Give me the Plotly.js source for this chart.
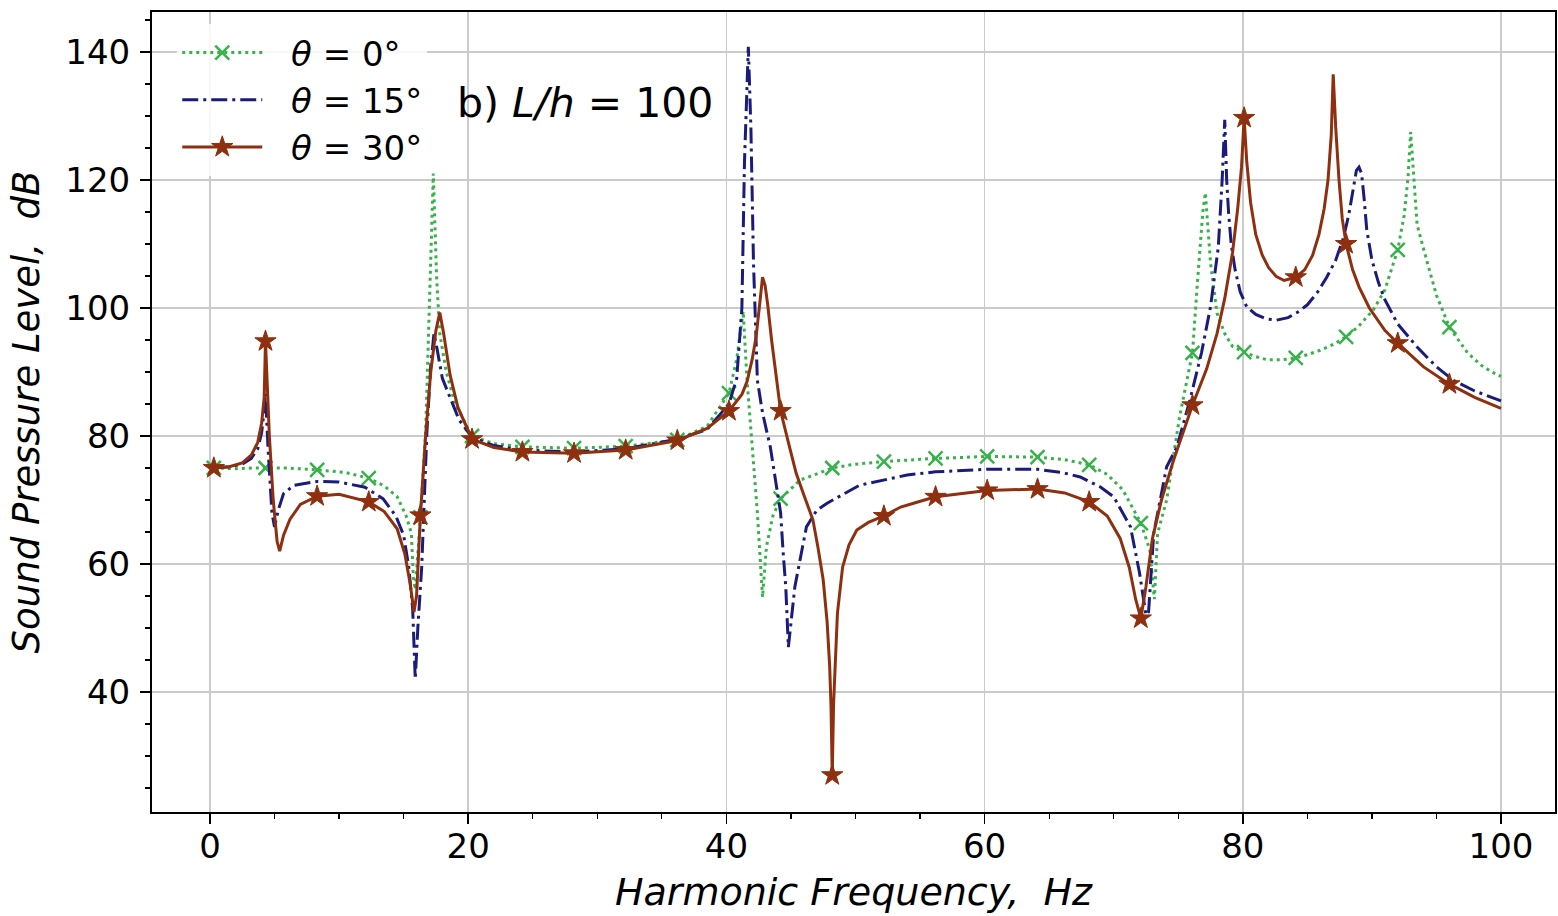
<!DOCTYPE html>
<html>
<head>
<meta charset="utf-8">
<script src="https://cdn.plot.ly/plotly-3.0.1.min.js"></script>
<style>html,body{margin:0;padding:0;background:#fff;}#chart{width:1558px;height:916px;}</style>
</head>
<body>
<div id="chart"></div>
<script>
// ---- data ----
// theta = 0 deg (green, dotted)
const f0 = [0.3,2.0,3.5,4.3,6.0,8.3,10.5,12.3,13.5,14.5,15.2,15.6,15.75,15.9,16.05,16.3,16.7,17.0,17.3,17.55,17.8,18.3,19.0,20.3,22.0,24.2,28.2,32.2,36.2,38.5,40.2,40.8,41.3,41.6,42.0,42.4,42.8,43.1,43.6,44.2,45.7,48.2,50.0,52.2,56.2,60.2,64.1,66.2,68.1,69.5,70.7,72.1,72.8,73.05,73.15,73.4,74.1,75.1,76.1,76.5,76.9,77.1,77.3,77.5,78.0,78.6,79.2,80.1,81.0,81.9,83.0,84.1,85.0,86.0,87.0,88.0,89.0,90.1,91.0,92.0,92.5,92.8,93.0,93.2,93.5,94.3,95.0,96.0,97.4,98.5,99.3,100.0];
const y0 = [75.0,74.9,75.0,75.0,75.0,74.7,74.3,73.4,72.2,70.5,67.5,64.8,58.0,56.0,60.0,67.3,80.5,101.0,121.0,105.0,96.0,90.0,85.0,80.0,78.8,78.3,78.1,78.4,79.4,81.5,86.7,92.0,99.5,88.7,78.3,68.0,54.8,62.7,67.5,70.2,73.1,75.0,75.6,76.0,76.5,76.8,76.7,76.3,75.5,74.0,71.6,66.4,62.2,57.0,54.5,64.8,70.0,83.0,93.0,104.4,115.0,118.0,112.0,107.0,99.2,96.0,94.0,93.1,92.4,91.9,91.9,92.2,92.7,93.4,94.3,95.5,97.2,99.7,102.8,109.1,114.5,120.5,127.5,121.0,113.0,107.0,102.0,97.0,93.0,91.0,90.0,89.3];
// theta = 15 deg (navy, dash-dot)
const f15 = [0.3,1.5,2.5,3.2,3.7,4.0,4.2,4.3,4.5,4.8,5.0,5.3,5.7,6.5,8.3,10.0,12.0,13.4,14.4,15.0,15.4,15.7,15.9,16.1,16.4,16.8,17.1,17.35,17.6,18.0,18.6,19.3,20.3,22.0,24.2,28.2,32.2,36.2,38.5,40.2,40.8,41.2,41.4,41.7,41.9,42.1,42.4,42.8,43.4,43.9,44.2,44.4,44.6,44.8,45.05,45.3,45.9,46.2,47.0,47.8,50.3,54.0,56.2,60.2,64.1,66.0,67.4,69.0,70.0,71.3,72.0,72.5,72.7,73.1,74.1,74.9,75.9,76.8,77.5,78.1,78.4,78.6,78.75,78.9,79.1,79.4,79.8,80.3,81.0,81.8,82.6,83.5,84.3,85.0,85.8,86.5,87.2,87.8,88.2,88.5,88.8,89.0,89.2,89.4,89.6,90.0,90.5,91.0,92.0,93.5,95.0,96.3,98.0,100.0];
const y15 = [75.0,75.2,75.6,76.5,78.0,80.5,84.0,86.7,78.0,68.0,65.8,68.5,71.0,72.3,72.9,72.8,72.0,70.2,67.5,64.5,59.5,53.0,42.0,50.0,59.5,80.5,91.0,96.0,93.5,89.0,86.0,82.5,79.8,78.5,77.8,77.5,78.0,79.5,81.0,85.0,89.0,100.0,122.7,140.8,128.0,107.0,88.7,83.6,78.3,71.6,68.0,61.7,56.4,47.0,52.0,56.4,62.7,65.8,68.4,69.5,72.3,73.9,74.4,74.8,74.8,74.3,73.6,72.0,70.5,65.8,58.6,52.0,52.5,64.8,75.2,78.3,85.6,93.0,100.2,109.5,120.0,129.4,120.0,114.8,110.0,106.0,102.5,100.2,99.0,98.3,98.1,98.5,99.4,100.5,102.5,104.8,107.5,111.0,114.5,118.0,121.5,122.0,121.0,117.0,112.2,107.5,104.0,101.3,97.5,93.9,90.8,88.7,87.0,85.5];
// theta = 30 deg (brown, solid)
const f30 = [0.3,1.5,2.5,3.2,3.7,4.0,4.2,4.3,4.6,4.9,5.2,5.4,5.7,6.2,7.0,8.3,10.0,12.3,13.5,14.5,15.1,15.5,15.8,16.0,16.3,16.7,17.1,17.5,17.8,18.1,18.6,19.2,20.3,22.0,24.2,28.2,32.2,36.2,38.5,40.2,41.2,41.6,42.0,42.3,42.6,42.8,43.0,43.2,43.5,43.9,44.2,44.8,45.4,46.0,46.7,47.1,47.5,47.8,48.0,48.1,48.2,48.3,48.45,48.6,49.0,49.5,50.1,51.0,52.2,53.5,54.5,56.2,60.2,64.1,66.2,68.1,69.5,70.5,71.2,71.7,72.1,72.5,73.0,73.7,74.6,76.1,77.2,78.0,78.6,79.2,79.6,79.9,80.1,80.3,80.6,81.0,81.5,82.0,82.6,83.2,84.1,84.8,85.4,85.9,86.3,86.6,86.85,87.0,87.2,87.45,87.7,88.0,88.5,89.0,89.8,91.0,92.0,94.0,96.0,98.0,100.0];
const y30 = [75.0,75.2,75.8,77.0,79.0,82.0,86.0,94.8,80.0,70.0,63.5,62.0,64.5,67.0,69.3,70.6,70.9,69.7,68.2,65.5,61.5,57.0,52.5,55.0,67.6,80.0,90.0,96.5,99.3,96.0,89.5,84.5,79.5,78.2,77.5,77.3,77.8,79.3,81.2,83.9,86.5,88.5,92.0,95.5,101.0,104.8,103.5,100.5,95.0,88.5,83.9,79.0,74.2,70.8,66.9,62.5,57.5,51.0,44.0,38.0,27.0,38.0,46.0,52.3,59.5,63.0,65.3,66.5,67.5,68.9,69.5,70.5,71.5,71.7,71.1,69.7,67.5,64.0,59.5,54.5,51.5,56.5,64.0,70.0,76.0,84.8,90.5,96.0,101.5,108.6,115.5,122.0,129.7,123.0,116.5,111.5,108.3,106.3,104.9,104.3,104.8,106.0,108.2,111.5,115.5,120.0,127.0,136.5,128.0,120.0,114.0,110.0,106.0,103.3,100.0,96.5,94.5,90.8,88.1,86.0,84.3];
// marker positions (every ~4 Hz)
const fm = [0.3,4.3,8.3,12.3,16.3,20.3,24.2,28.2,32.2,36.2,40.2,44.2,48.2,52.2,56.2,60.2,64.1,68.1,72.1,76.1,80.1,84.1,88.0,92.0,96.0];
const ym0 = [75.0,75.0,74.7,73.4,67.3,80.0,78.3,78.1,78.4,79.4,86.7,70.2,75.0,76.0,76.5,76.8,76.7,75.5,66.4,93.0,93.1,92.2,95.5,109.1,97.0];
const ym30 = [75.0,94.8,70.6,69.7,67.6,79.5,77.5,77.3,77.8,79.3,83.9,83.9,27.0,67.5,70.5,71.5,71.7,69.7,51.5,84.8,129.7,104.8,110.0,94.5,88.1];
const xTicks = [0,20,40,60,80,100];
const yTicks = [40,60,80,100,120,140];
const seriesNames = ['<i>θ</i> = 0°','<i>θ</i> = 15°','<i>θ</i> = 30°'];

// ---- styles ----
const cGreen = '#37b24b', cNavy = '#1b1b7c', cBrown = '#8e300f';
const FONT = 'DejaVu Sans, Verdana, sans-serif';
const lineG = {color:cGreen, width:3, dash:'3px,4px'};
const lineN = {color:cNavy, width:3, dash:'16px,5px,3px,5px'};
const lineB = {color:cBrown, width:3};
const mkG = {symbol:'x-thin', size:14, color:cGreen, line:{color:cGreen, width:2.5}};
const mkB = {symbol:'star', size:16, color:cBrown, line:{color:cBrown, width:1}};
const pad = '\u2002\u2009';

const traces = [
  {x:f0, y:y0, mode:'lines', line:lineG, showlegend:false},
  {x:fm, y:ym0, mode:'markers', marker:mkG, showlegend:false},
  {x:f15, y:y15, mode:'lines', line:lineN, showlegend:false},
  {x:f30, y:y30, mode:'lines', line:lineB, showlegend:false},
  {x:fm, y:ym30, mode:'markers', marker:mkB, showlegend:false},
  // legend entries
  {x:[null], y:[null], mode:'lines+markers', line:lineG, marker:mkG, name:pad + seriesNames[0]},
  {x:[null], y:[null], mode:'lines', line:lineN, name:pad + seriesNames[1]},
  {x:[null], y:[null], mode:'lines+markers', line:lineB, marker:mkB, name:pad + seriesNames[2]}
];

const axisCommon = {
  showline:true, mirror:true, linecolor:'#000', linewidth:2,
  ticks:'outside', ticklen:10, tickwidth:1.5, tickcolor:'#000',
  showgrid:true, gridcolor:'#cbcbcb', gridwidth:1.5, zeroline:false,
  tickfont:{family:FONT, size:34, color:'#000'},
  minor:{dtick:5, ticks:'outside', ticklen:5, tickwidth:1.2, tickcolor:'#000', showgrid:false}
};

const layout = {
  width:1558, height:916,
  margin:{l:152, r:3, t:12, b:104},
  paper_bgcolor:'#fff', plot_bgcolor:'#fff',
  font:{family:FONT, color:'#000'},
  xaxis:Object.assign({}, axisCommon, {
    range:[-4.49, 104.18], tickvals:xTicks, ticktext:xTicks.map(String),
    ticklabelstandoff:-7,
    title:{text:'<i>Harmonic Frequency,\u00a0 Hz</i>', font:{family:FONT, size:38, color:'#000'}, standoff:14}
  }),
  yaxis:Object.assign({}, axisCommon, {
    range:[21.25, 146.25], tickvals:yTicks, ticktext:yTicks.map(String),
    ticklabelstandoff:3,
    title:{text:'<i>Sound Pressure Level,\u00a0 dB</i>', font:{family:FONT, size:37, color:'#000'}, standoff:14}
  }),
  legend:{x:0.018, y:0.985, xanchor:'left', yanchor:'top',
    bgcolor:'rgba(255,255,255,0.85)', borderwidth:0,
    font:{family:FONT, size:34, color:'#000'}, itemwidth:80, tracegroupgap:0},
  annotations:[{x:19.0, y:132.0, xref:'x', yref:'y', xanchor:'left', yanchor:'middle',
    text:'b) <i>L/h</i> = 100', showarrow:false, font:{family:FONT, size:41, color:'#000'}}],
  showlegend:true
};

Plotly.newPlot('chart', traces, layout, {displayModeBar:false, staticPlot:true});
</script>
</body>
</html>
